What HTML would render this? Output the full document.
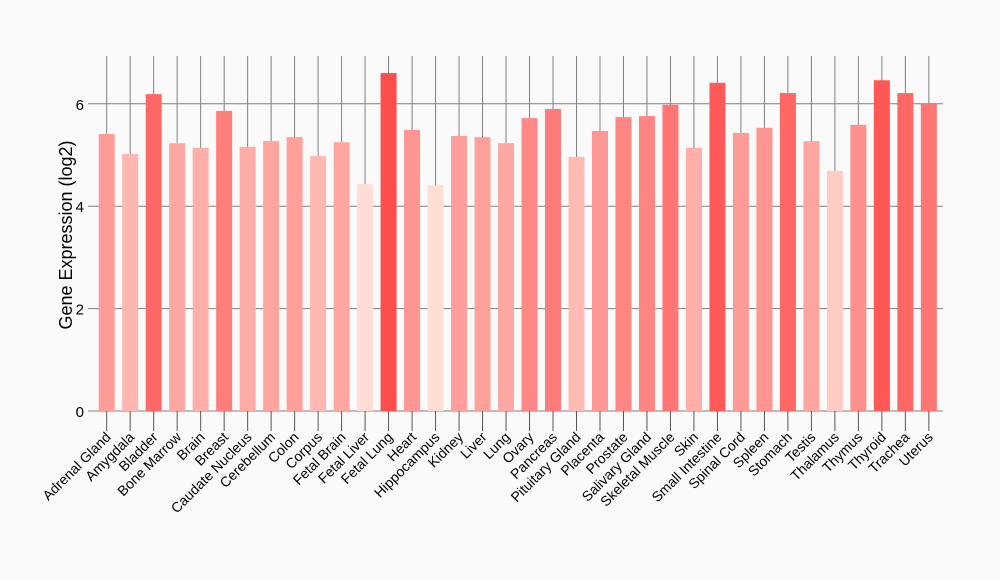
<!DOCTYPE html>
<html><head><meta charset="utf-8"><style>
html,body{margin:0;padding:0;background:#fafafa;}
svg{display:block;font-family:"Liberation Sans",Arial,sans-serif;}
</style></head><body>
<svg id="s" width="1000" height="580" xmlns="http://www.w3.org/2000/svg">
<rect width="1000" height="580" fill="#fafafa"/>
<g id="g"></g>
<text x="0" y="0" transform="translate(72,235) rotate(-90)" text-anchor="middle" font-size="18" fill="#000">Gene Expression (log2)</text>
</svg>
<script>
var names=["Adrenal Gland","Amygdala","Bladder","Bone Marrow","Brain","Breast","Caudate Nucleus","Cerebellum","Colon","Corpus","Fetal Brain","Fetal Liver","Fetal Lung","Heart","Hippocampus","Kidney","Liver","Lung","Ovary","Pancreas","Pituitary Gland","Placenta","Prostate","Salivary Gland","Skeletal Muscle","Skin","Small Intestine","Spinal Cord","Spleen","Stomach","Testis","Thalamus","Thymus","Thyroid","Trachea","Uterus"];
var vals=[5.41,5.02,6.19,5.23,5.14,5.86,5.16,5.27,5.35,4.98,5.25,4.43,6.6,5.49,4.41,5.37,5.35,5.23,5.72,5.9,4.96,5.47,5.74,5.76,5.98,5.14,6.41,5.43,5.53,6.21,5.27,4.69,5.59,6.46,6.21,6.0];
var y0=411,k=51.2,x0=106.7,dx=23.49,h="";
function Y(v){return y0-v*k;}
for(var i=0;i<36;i++){var cx=x0+i*dx;h+='<line x1="'+cx+'" x2="'+cx+'" y1="56" y2="'+y0+'" stroke="#808080" stroke-width="1"/>';}
[0,2,4,6].forEach(function(v){var y=Y(v);h+='<line x1="88" x2="943" y1="'+y+'" y2="'+y+'" stroke="#808080" stroke-width="1"/><text x="84" y="'+(y+6)+'" text-anchor="end" font-size="15">'+v+'</text>';});
for(var i=0;i<36;i++){var cx=x0+i*dx,v=vals[i],t=(v-4.41)/(6.6-4.41);
var g=Math.round(222-145*t),b=Math.round(214-137*t);
h+='<rect x="'+(cx-8)+'" y="'+Y(v)+'" width="16" height="'+(v*k)+'" fill="rgb(255,'+g+','+b+')"/>';
h+='<line x1="'+cx+'" x2="'+cx+'" y1="'+y0+'" y2="431" stroke="#555" stroke-width="1"/>';
h+='<text transform="translate('+(cx+5)+',438) rotate(-45)" text-anchor="end" font-size="14">'+names[i]+'</text>';}
document.getElementById("g").innerHTML=h;
</script>
</body></html>
